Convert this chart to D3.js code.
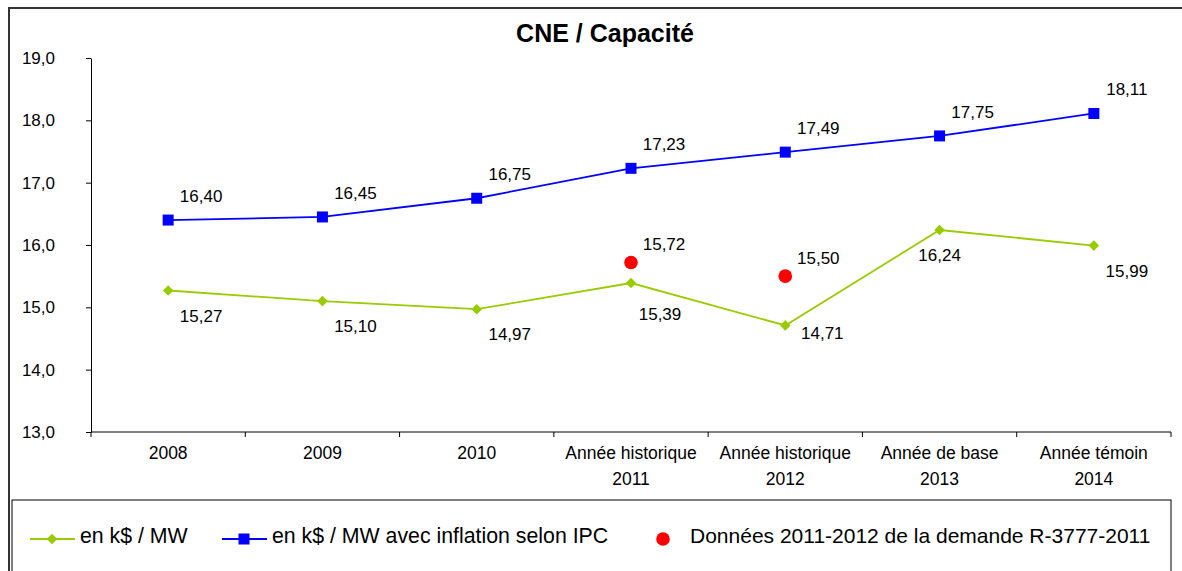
<!DOCTYPE html>
<html>
<head>
<meta charset="utf-8">
<script src="https://cdn.jsdelivr.net/npm/d3@7"></script>
<style>
  body { margin: 0; background: #fff; }
  text { font-family: "Liberation Sans", Arial, sans-serif; }
</style>
</head>
<body>
<div id="chart"></div>
<script>
// data

var categories = [
    ["2008"], ["2009"], ["2010"],
    ["Année historique", "2011"], ["Année historique", "2012"],
    ["Année de base", "2013"], ["Année témoin", "2014"]
];
var kdollars = [15.27, 15.10, 14.97, 15.39, 14.71, 16.24, 15.99];
var kdollarsIPC = [16.40, 16.45, 16.75, 17.23, 17.49, 17.75, 18.11];
var demandeIdx = [3, 4];
var demandeValues = [15.72, 15.50];
var yTicks = [13, 14, 15, 16, 17, 18, 19];
var legendLabels = ["en k$ / MW", "en k$ / MW avec inflation selon IPC", "Données 2011-2012 de la demande R-3777-2011"];

var w = 1182,
    h = 571,
    svg = d3.select("#chart")
            .append("svg")
            .attr("width", w)
            .attr("height", h);

var green = "#99cc00",
    blue = "#0000ff",
    red = "#ff0000";

var fmt = function(v) { return d3.format(".2f")(v).replace(".", ","); };

// outer frame
svg.append("path")
    .attr("d", "M9,572 V8 H1184")
    .attr("fill", "none")
    .attr("stroke", "#333")
    .attr("stroke-width", 2);

// title
svg.append("text")
    .attr("x", 605)
    .attr("y", 42)
    .attr("text-anchor", "middle")
    .attr("font-size", "25px")
    .attr("font-weight", "bold")
    .text("CNE / Capacité");

// scales
var x = d3.scaleBand()
    .domain(d3.range(categories.length))
    .range([91, 1171]);

var y = d3.scaleLinear()
    .domain([13, 19])
    .range([432, 58]);

var cx = function(i) { return x(i) + x.bandwidth() / 2; };

// y axis
var yAxis = svg.append("g")
    .attr("transform", "translate(91,0)")
    .call(d3.axisLeft(y).tickValues(yTicks).tickSize(5).tickSizeOuter(0)
        .tickFormat(function(d) { return d3.format(".1f")(d).replace(".", ","); }));
yAxis.selectAll("text").attr("font-size", "17px").attr("fill", "#000").attr("x", -36);
yAxis.selectAll("line, path").attr("stroke", "#000");

// x axis
var xAxis = svg.append("g")
    .attr("transform", "translate(0,432)");
xAxis.append("line")
    .attr("x1", 91).attr("x2", 1171)
    .attr("stroke", "#000");
xAxis.selectAll(".tk")
    .data(d3.range(categories.length + 1))
    .enter().append("line")
    .attr("x1", function(i) { return 91 + i * x.step(); })
    .attr("x2", function(i) { return 91 + i * x.step(); })
    .attr("y2", 5)
    .attr("stroke", "#000");
xAxis.selectAll(".cat")
    .data(categories)
    .enter().append("text")
    .attr("text-anchor", "middle")
    .attr("font-size", "17.5px")
    .each(function(lines, i) {
        d3.select(this).selectAll("tspan")
            .data(lines)
            .enter().append("tspan")
            .attr("x", cx(i))
            .attr("y", function(d, j) { return 27 + j * 26; })
            .text(function(d) { return d; });
    });

// lines
var line = d3.line()
    .x(function(d, i) { return cx(i); })
    .y(function(d) { return y(d); });

svg.append("path")
    .datum(kdollars)
    .attr("fill", "none")
    .attr("stroke", green)
    .attr("stroke-width", 1.8)
    .attr("d", line);

svg.append("path")
    .datum(kdollarsIPC)
    .attr("fill", "none")
    .attr("stroke", blue)
    .attr("stroke-width", 1.8)
    .attr("d", line);

var diamond = d3.symbol().type(d3.symbolSquare).size(56);

svg.selectAll(".gpt")
    .data(kdollars)
    .enter().append("path")
    .attr("d", diamond)
    .attr("transform", function(d, i) { return "translate(" + cx(i) + "," + y(d) + ") rotate(45)"; })
    .attr("fill", green);

svg.selectAll(".bpt")
    .data(kdollarsIPC)
    .enter().append("rect")
    .attr("x", function(d, i) { return cx(i) - 5.5; })
    .attr("y", function(d) { return y(d) - 5.5; })
    .attr("width", 11)
    .attr("height", 11)
    .attr("fill", blue);

svg.selectAll(".rpt")
    .data(demandeValues)
    .enter().append("circle")
    .attr("cx", function(d, i) { return cx(demandeIdx[i]); })
    .attr("cy", function(d) { return y(d); })
    .attr("r", 6.8)
    .attr("fill", red);

// data labels
function label(xp, yp, v) {
    svg.append("text")
        .attr("x", xp)
        .attr("y", yp)
        .attr("text-anchor", "middle")
        .attr("font-size", "17px")
        .text(fmt(v));
}

kdollarsIPC.forEach(function(v, i) {
    label(cx(i) + 33, y(v) - 18, v);
});
kdollars.forEach(function(v, i) {
    if (i === 5) label(cx(i), y(v) + 31, v);
    else if (i === 4) label(cx(i) + 37, y(v) + 14, v);
    else if (i === 3) label(cx(i) + 29, y(v) + 37, v);
    else label(cx(i) + 33, y(v) + 31, v);
});
demandeValues.forEach(function(v, i) {
    label(cx(demandeIdx[i]) + 33, y(v) - 12, v);
});

// legend
var lg = svg.append("g");
lg.append("rect")
    .attr("x", 12).attr("y", 500)
    .attr("width", 1159).attr("height", 90)
    .attr("fill", "none")
    .attr("stroke", "#000")
    .attr("stroke-width", 1);

[[30, green, "d"], [222, blue, "s"]].forEach(function(it, k) {
    lg.append("line")
        .attr("x1", it[0]).attr("x2", it[0] + 45)
        .attr("y1", 539).attr("y2", 539)
        .attr("stroke", it[1]).attr("stroke-width", 1.8);
    if (it[2] === "d") {
        lg.append("path").attr("d", diamond)
            .attr("transform", "translate(" + (it[0] + 22) + ",539) rotate(45)")
            .attr("fill", it[1]);
    } else {
        lg.append("rect").attr("x", it[0] + 16.5).attr("y", 533.5)
            .attr("width", 11).attr("height", 11).attr("fill", it[1]);
    }
    lg.append("text")
        .attr("x", it[0] + 50).attr("y", 543)
        .attr("font-size", "21.3px")
        .text(legendLabels[k]);
});
lg.append("circle")
    .attr("cx", 663).attr("cy", 539).attr("r", 6.8).attr("fill", red);
lg.append("text")
    .attr("x", 690).attr("y", 543)
    .attr("font-size", "21px")
    .text(legendLabels[2]);
</script>
</body>
</html>
